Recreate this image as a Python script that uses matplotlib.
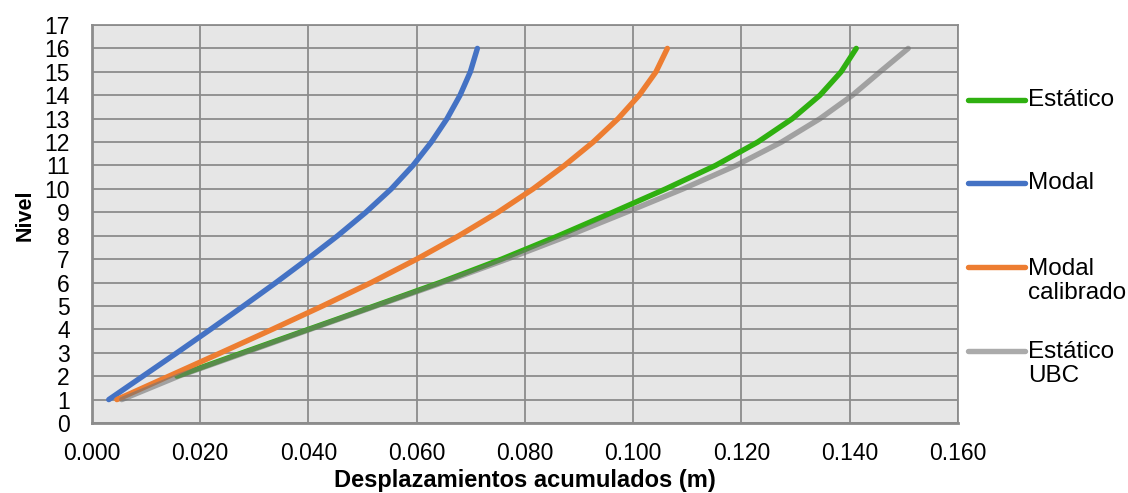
import numpy as np
import matplotlib
matplotlib.use("Agg")
import matplotlib.pyplot as plt
from matplotlib.lines import Line2D
from matplotlib.ticker import MultipleLocator, FormatStrFormatter

plt.rcParams['font.family'] = ['Liberation Sans', 'DejaVu Sans']

# ---- data ----
niveles = [1, 2, 3, 4, 5, 6, 7, 8, 9, 10, 11, 12, 13, 14, 15, 16]
estatico = [np.nan, 0.0157, 0.0278, 0.0400, 0.0522, 0.0643, 0.0757, 0.0862,
            0.0962, 0.1060, 0.1152, 0.1230, 0.1294, 0.1345, 0.1384, 0.1412]
modal = [0.0031, 0.0094, 0.0157, 0.0219, 0.0280, 0.0340, 0.0398, 0.0454,
         0.0506, 0.0553, 0.0593, 0.0627, 0.0656, 0.0680, 0.0699, 0.0712]
modal_calibrado = [0.0046, 0.0142, 0.0238, 0.0333, 0.0426, 0.0516, 0.0600, 0.0678,
                   0.0750, 0.0815, 0.0873, 0.0926, 0.0972, 0.1011, 0.1042, 0.1063]
estatico_ubc = [0.0055, 0.0160, 0.0282, 0.0403, 0.0525, 0.0648, 0.0767, 0.0880,
                0.0987, 0.1092, 0.1190, 0.1274, 0.1345, 0.1405, 0.1456, 0.1508]
series_labels = ["Estático", "Modal", "Modal\ncalibrado", "Estático\nUBC"]

c_green = "#2FB010"
c_blue = "#4472C4"
c_orange = "#ED7D31"
c_gray = "#747474"

W, H = 1128, 493
fig = plt.figure(figsize=(W / 100, H / 100), dpi=100)
L, R, T, B = 92, 958, 25, 423
ax = fig.add_axes([L / W, 1 - B / H, (R - L) / W, (B - T) / H])
ax.set_facecolor("#E6E6E6")

lw = 3.9
ax.plot(estatico, niveles, color=c_green, lw=lw, solid_capstyle="round",
        solid_joinstyle="round", zorder=3)
ax.plot(modal, niveles, color=c_blue, lw=lw, solid_capstyle="round",
        solid_joinstyle="round", zorder=3)
ax.plot(modal_calibrado, niveles, color=c_orange, lw=lw, solid_capstyle="round",
        solid_joinstyle="round", zorder=3)
ax.plot(estatico_ubc, niveles, color=c_gray, lw=lw, alpha=0.6, solid_capstyle="round",
        solid_joinstyle="round", zorder=4)

ax.set_xlim(0, 0.16)
ax.set_ylim(0, 17)
ax.xaxis.set_major_locator(MultipleLocator(0.02))
ax.xaxis.set_major_formatter(FormatStrFormatter("%.3f"))
ax.yaxis.set_major_locator(MultipleLocator(1))
ax.grid(True, color="#8C8C8C", lw=1.3, zorder=1)
ax.set_axisbelow(True)
for s in ax.spines.values():
    s.set_color("#8C8C8C")
    s.set_linewidth(1.3)
ax.spines["left"].set_linewidth(2)
ax.spines["bottom"].set_linewidth(2)
ax.tick_params(axis="both", length=0, labelsize=16.5, labelcolor="black")
ax.tick_params(axis="y", pad=16)
ax.tick_params(axis="x", pad=14)

ax.set_xlabel("Desplazamientos acumulados (m)", fontsize=17, fontweight="bold", va="center")
ax.xaxis.set_label_coords(0.5, (B - 481) / (B - T))
ax.set_ylabel("Nivel", fontsize=15.5, fontweight="bold", va="center")
ax.yaxis.set_label_coords((25 - L) / (R - L), (B - 215) / (B - T))

# ---- legend (manual, to the right) ----
leg_items = [
    (c_green, 1.0, series_labels[0], 100, 100),
    (c_blue, 1.0, series_labels[1], 183, 183),
    (c_orange, 1.0, series_labels[2], 267, 281),
    (c_gray, 0.6, series_labels[3], 351, 364),
]
for col, a, lab, yh, yt in leg_items:
    fig.add_artist(Line2D([968 / W, 1025 / W], [1 - yh / H, 1 - yh / H],
                          color=col, alpha=a, lw=lw, solid_capstyle="round"))
    fig.text(1028 / W, 1 - yt / H, lab, fontsize=17.5, va="center", ha="left",
             linespacing=1.15)

fig.savefig("out.png", dpi=100)
